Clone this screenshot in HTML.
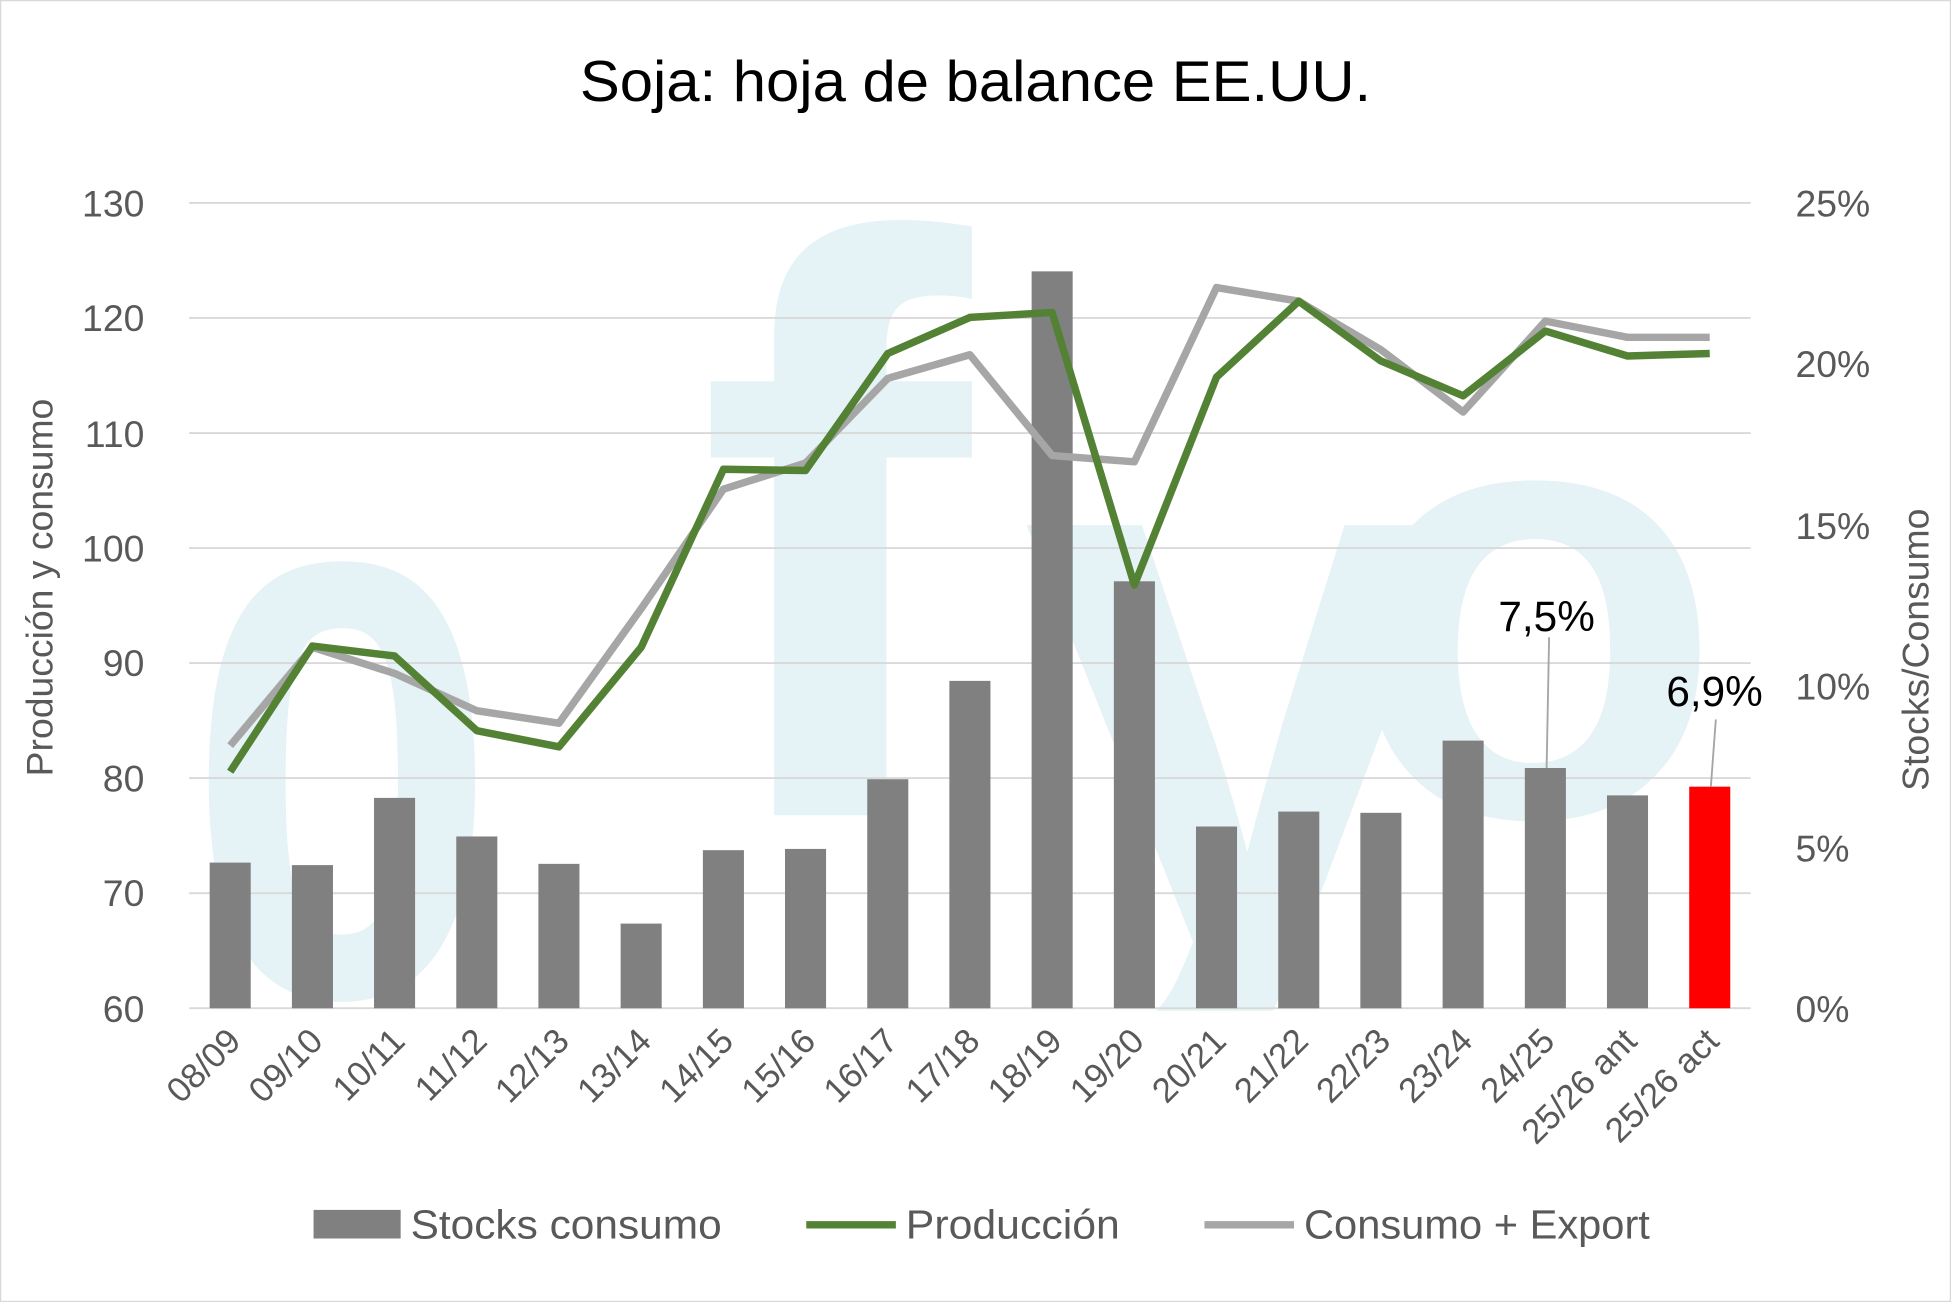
<!DOCTYPE html>
<html><head><meta charset="utf-8"><style>html,body{margin:0;padding:0;background:#fff}svg{display:block}</style></head>
<body>
<svg width="1951" height="1302" viewBox="0 0 1568 1046" preserveAspectRatio="none" xmlns="http://www.w3.org/2000/svg" font-family="Liberation Sans, sans-serif">
<defs><clipPath id="c"><rect x="140" y="150" width="1280" height="662"/></clipPath></defs>
<rect x="0.5" y="0.5" width="1567" height="1045" fill="#fff" stroke="#d9d9d9"/>
<!-- watermark -->
<g fill="#e5f2f6" font-weight="bold" clip-path="url(#c)">
<text x="150" y="800" font-size="500" transform="translate(150,0) scale(0.9,1) translate(-150,0)">0</text>
<text x="560" y="655" font-size="660">f</text>
<text x="820" y="760" font-size="640">y</text>
<text x="1080" y="655" font-size="500">o</text>
</g>
<text x="784" y="81" font-size="46" text-anchor="middle" textLength="636" lengthAdjust="spacingAndGlyphs" fill="#000">Soja: hoja de balance EE.UU.</text>
<!-- grid -->
<g stroke="#d9d9d9" stroke-width="1.5">
<line x1="152" x2="1407" y1="163" y2="163"/><line x1="152" x2="1407" y1="255.4" y2="255.4"/>
<line x1="152" x2="1407" y1="347.9" y2="347.9"/><line x1="152" x2="1407" y1="440.3" y2="440.3"/>
<line x1="152" x2="1407" y1="532.7" y2="532.7"/><line x1="152" x2="1407" y1="625.1" y2="625.1"/>
<line x1="152" x2="1407" y1="717.6" y2="717.6"/><line x1="152" x2="1407" y1="810" y2="810"/>
</g>
<g font-size="30" fill="#595959" text-anchor="end">
<text x="116" y="174">130</text><text x="116" y="266">120</text><text x="116" y="359">110</text><text x="116" y="451">100</text>
<text x="116" y="543">90</text><text x="116" y="636">80</text><text x="116" y="728">70</text><text x="116" y="821">60</text>
</g>
<g font-size="30" fill="#595959">
<text x="1443" y="174">25%</text><text x="1443" y="303">20%</text><text x="1443" y="433">15%</text>
<text x="1443" y="562">10%</text><text x="1443" y="692">5%</text><text x="1443" y="821">0%</text>
</g>
<text transform="translate(42,472) rotate(-90)" font-size="30" fill="#595959" text-anchor="middle">Producción y consumo</text>
<text transform="translate(1550,522) rotate(-90)" font-size="30" fill="#595959" text-anchor="middle">Stocks/Consumo</text>
<!-- bars -->
<g fill="#808080">
<rect x="168.5" y="693" width="33" height="117"/>
<rect x="234.6" y="695" width="33" height="115"/>
<rect x="300.6" y="641" width="33" height="169"/>
<rect x="366.7" y="672" width="33" height="138"/>
<rect x="432.7" y="694" width="33" height="116"/>
<rect x="498.8" y="742" width="33" height="68"/>
<rect x="564.9" y="683" width="33" height="127"/>
<rect x="630.9" y="682" width="33" height="128"/>
<rect x="697" y="626" width="33" height="184"/>
<rect x="763" y="547" width="33" height="263"/>
<rect x="829.1" y="218" width="33" height="592"/>
<rect x="895.2" y="467" width="33" height="343"/>
<rect x="961.2" y="664" width="33" height="146"/>
<rect x="1027.3" y="652" width="33" height="158"/>
<rect x="1093.3" y="653" width="33" height="157"/>
<rect x="1159.4" y="595" width="33" height="215"/>
<rect x="1225.5" y="617" width="33" height="193"/>
<rect x="1291.5" y="639" width="33" height="171"/>
</g>
<rect x="1357.6" y="632" width="33" height="178" fill="#ff0000"/>
<!-- lines -->
<polyline fill="none" stroke="#a6a6a6" stroke-width="6" stroke-linejoin="round" points="185,599 251.1,520 317.1,541 383.2,571 449.2,581 515.3,489 581.4,393 647.4,372 713.5,304 779.5,285 845.6,366 911.7,371 977.7,231 1043.8,242 1109.8,281 1175.9,331 1242,258 1308,271 1374.1,271"/>
<polyline fill="none" stroke="#548235" stroke-width="6" stroke-linejoin="round" points="185,620 251.1,519 317.1,527 383.2,587 449.2,600 515.3,520 581.4,377 647.4,378 713.5,284 779.5,255 845.6,251 911.7,470 977.7,303 1043.8,242 1109.8,290 1175.9,318 1242,266 1308,286 1374.1,284"/>
<!-- annotations -->
<line x1="1245" y1="512" x2="1243" y2="617" stroke="#a6a6a6" stroke-width="1.5"/>
<line x1="1379" y1="578" x2="1375" y2="632" stroke="#a6a6a6" stroke-width="1.5"/>
<text x="1243" y="507" font-size="34" text-anchor="middle" fill="#000">7,5%</text>
<text x="1378" y="567" font-size="34" text-anchor="middle" fill="#000">6,9%</text>
<!-- x labels -->
<g font-size="28" fill="#595959" text-anchor="end">
<text transform="translate(195,838) rotate(-45)">08/09</text>
<text transform="translate(261,838) rotate(-45)">09/10</text>
<text transform="translate(327,838) rotate(-45)">10/11</text>
<text transform="translate(393,838) rotate(-45)">11/12</text>
<text transform="translate(459,838) rotate(-45)">12/13</text>
<text transform="translate(525,838) rotate(-45)">13/14</text>
<text transform="translate(591,838) rotate(-45)">14/15</text>
<text transform="translate(657,838) rotate(-45)">15/16</text>
<text transform="translate(723,838) rotate(-45)">16/17</text>
<text transform="translate(789,838) rotate(-45)">17/18</text>
<text transform="translate(855,838) rotate(-45)">18/19</text>
<text transform="translate(921,838) rotate(-45)">19/20</text>
<text transform="translate(987,838) rotate(-45)">20/21</text>
<text transform="translate(1053,838) rotate(-45)">21/22</text>
<text transform="translate(1119,838) rotate(-45)">22/23</text>
<text transform="translate(1185,838) rotate(-45)">23/24</text>
<text transform="translate(1251,838) rotate(-45)">24/25</text>
<text transform="translate(1317,838) rotate(-45)">25/26 ant</text>
<text transform="translate(1383,838) rotate(-45)">25/26 act</text>
</g>
<!-- legend -->
<rect x="252" y="972" width="70" height="23" fill="#808080"/>
<text x="330" y="995" font-size="33" fill="#595959" textLength="250" lengthAdjust="spacingAndGlyphs">Stocks consumo</text>
<line x1="648" x2="720" y1="984" y2="984" stroke="#548235" stroke-width="6"/>
<text x="728" y="995" font-size="33" fill="#595959" textLength="172" lengthAdjust="spacingAndGlyphs">Producción</text>
<line x1="968" x2="1040" y1="984" y2="984" stroke="#a6a6a6" stroke-width="6"/>
<text x="1048" y="995" font-size="33" fill="#595959" textLength="278" lengthAdjust="spacingAndGlyphs">Consumo + Export</text>
</svg>
</body></html>
